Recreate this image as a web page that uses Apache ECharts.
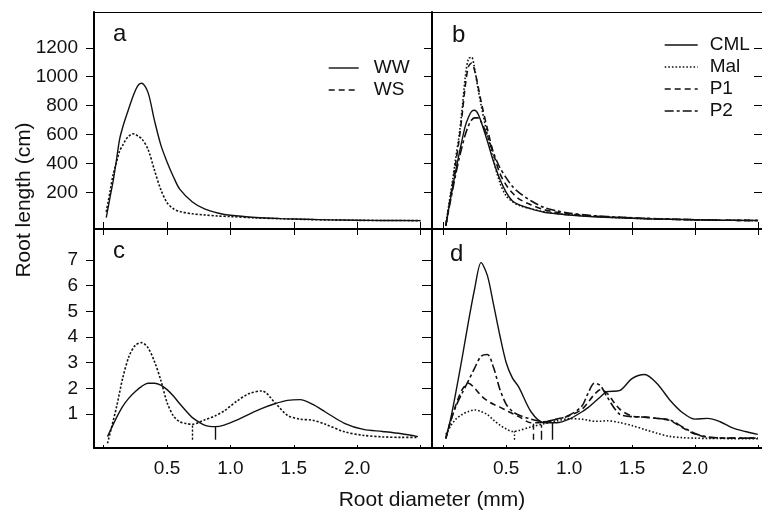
<!DOCTYPE html>
<html>
<head>
<meta charset="utf-8">
<script src="https://cdn.jsdelivr.net/npm/echarts@6/dist/echarts.min.js"></script>
<style>
  html, body { margin: 0; padding: 0; background: #fff; }
  #chart { width: 762px; height: 512px; }
</style>
</head>
<body>
<div id="chart"></div>
<script>
// root diameter (mm) sample points, upper panels (a, b)
var diamTop = [0.02, 0.05, 0.075, 0.1, 0.125, 0.15, 0.175, 0.2, 0.225, 0.25, 0.275, 0.3, 0.35, 0.4, 0.45,
  0.5, 0.55, 0.6, 0.7, 0.8, 0.9, 1.0, 1.2, 1.4, 1.6, 1.8, 2.0, 2.2, 2.5];
// panel a: root length (cm)
var wwA = [25, 165, 280, 420, 565, 650, 720, 785, 850, 905, 945, 955, 890, 700, 530,
  410, 308, 222, 133, 83, 57, 41, 26, 18, 13, 9, 7, 5, 4];
var wsA = [65, 205, 325, 405, 485, 525, 565, 590, 605, 602, 585, 572, 497, 355, 220,
  128, 86, 67, 51, 43, 36, 32, 23, 17, 12, 8, 6, 5, 4];
// panel b
var cmlB = [-30, 120, 239, 355, 462, 565, 660, 720, 760, 768, 745, 690, 555, 410, 290,
  200, 140, 115, 85, 62, 52, 43, 31, 23, 17, 13, 10, 7, 5];
var malB = [-30, 150, 290, 446, 590, 780, 1000, 1125, 1135, 1050, 920, 805, 600, 420, 265,
  175, 135, 110, 85, 65, 53, 45, 32, 24, 18, 13, 10, 7, 5];
var p1B = [-30, 130, 265, 410, 560, 740, 940, 1070, 1095, 1040, 940, 830, 640, 465, 330,
  250, 195, 155, 112, 80, 62, 50, 35, 26, 19, 14, 10, 7, 5];
var p2B = [-30, 110, 220, 330, 430, 520, 600, 660, 700, 715, 715, 690, 590, 470, 370,
  300, 240, 200, 140, 95, 72, 56, 38, 28, 20, 14, 10, 7, 5];

// panel c
var diamC = [0.03, 0.1, 0.15, 0.2, 0.25, 0.3, 0.35, 0.4, 0.45, 0.5, 0.55, 0.6, 0.65, 0.7, 0.8,
  0.88, 0.95, 1.05, 1.15, 1.25, 1.35, 1.45, 1.55, 1.65, 1.75, 1.9, 2.05, 2.2, 2.35, 2.48];
var wwC = [0.12, 0.85, 1.3, 1.63, 1.88, 2.08, 2.2, 2.2, 2.13, 1.95, 1.7, 1.4, 1.12, 0.86, 0.56,
  0.51, 0.57, 0.76, 1.0, 1.22, 1.4, 1.53, 1.56, 1.38, 1.08, 0.64, 0.4, 0.32, 0.23, 0.12];
var wsC = [-0.14, 1.25, 2.4, 3.25, 3.68, 3.78, 3.58, 3.05, 2.33, 1.45, 0.93, 0.7, 0.63, 0.6, 0.78,
  0.93, 1.12, 1.5, 1.8, 1.9, 1.45, 0.95, 0.8, 0.76, 0.6, 0.31, 0.17, 0.11, 0.09, 0.09];
var cutC = [0.878, 0.70]; // WW, WS

// panel d
var diamD = [0.02, 0.06, 0.1, 0.15, 0.2, 0.25, 0.3, 0.35, 0.4, 0.45, 0.5, 0.55, 0.6, 0.7, 0.8, 0.9,
  1.0, 1.1, 1.15, 1.2, 1.25, 1.3, 1.4, 1.5, 1.6, 1.7, 1.8, 1.9, 2.0, 2.1, 2.2, 2.3, 2.4, 2.5];
var cmlD = [0.05, 0.85, 1.85, 3.2, 4.6, 5.9, 6.9, 6.4, 5.25, 4.05, 3.0, 2.4, 2.05, 1.07, 0.66, 0.66,
  0.8, 1.08, 1.25, 1.46, 1.67, 1.87, 1.91, 2.38, 2.54, 2.18, 1.55, 1.06, 0.8, 0.83, 0.7, 0.46, 0.32, 0.21];
var malD = [0.2, 0.55, 0.8, 0.98, 1.1, 1.16, 1.1, 0.98, 0.76, 0.57, 0.42, 0.32, 0.36, 0.5, 0.62, 0.73,
  0.82, 0.8, 0.76, 0.72, 0.72, 0.74, 0.67, 0.55, 0.4, 0.25, 0.13, 0.08, 0.06, 0.05, 0.05, 0.04, 0.04, 0.04];
var p1D = [0.05, 0.75, 1.35, 1.95, 2.2, 2.0, 1.72, 1.52, 1.38, 1.27, 1.14, 1.02, 0.9, 0.66, 0.68, 0.8,
  0.93, 1.18, 1.45, 1.76, 1.95, 1.82, 1.2, 0.92, 0.88, 0.83, 0.75, 0.47, 0.22, 0.1, 0.07, 0.06, 0.06, 0.06];
var p2D = [0.05, 0.75, 1.3, 1.82, 2.3, 2.8, 3.25, 3.32, 2.8, 1.96, 1.38, 1.1, 0.96, 0.8, 0.7, 0.8,
  0.95, 1.3, 1.8, 2.2, 2.1, 1.68, 1.0, 0.9, 0.88, 0.83, 0.77, 0.5, 0.24, 0.1, 0.07, 0.06, 0.06, 0.06];
var cutD = [0.867, 0.565, 0.716, 0.78]; // CML, Mal, P1, P2

var xTicks = [0, 0.5, 1.0, 1.5, 2.0, 2.5];
var xLabels = [0.5, 1.0, 1.5, 2.0];
var yTicksTop = [200, 400, 600, 800, 1000, 1200];
var yTicksBottom = [1, 2, 3, 4, 5, 6, 7];

var FONT = "'Liberation Sans', Arial, sans-serif";
var INK = '#111';
var SOLID = 'solid', DOT = [1.6, 2], FINE = [2.2, 1.8], DASH = [6, 4], DASHDOT = [9, 3, 3, 3];

function pairs(xs, ys) {
  return xs.map(function (x, i) { return [x, ys[i]]; });
}
function interp(xs, ys, x) {
  for (var i = 1; i < xs.length; i++) {
    if (x <= xs[i]) {
      var t = (x - xs[i - 1]) / (xs[i] - xs[i - 1]);
      return ys[i - 1] + t * (ys[i] - ys[i - 1]);
    }
  }
  return ys[ys.length - 1];
}

function line(name, xs, ys, idx, type, cut) {
  var w = type === SOLID ? 1.4 : 1.6;
  var s = {
    name: name,
    type: 'line',
    xAxisIndex: idx,
    yAxisIndex: idx,
    data: pairs(xs, ys),
    smooth: 0.3,
    symbol: 'none',
    silent: true,
    itemStyle: { color: INK },
    lineStyle: { color: INK, width: w, type: type }
  };
  if (cut != null) {
    s.markLine = {
      silent: true,
      symbol: 'none',
      label: { show: false },
      lineStyle: { color: INK, width: 1.4, type: type },
      data: [[{ coord: [cut, 0] }, { coord: [cut, interp(xs, ys, cut)] }]]
    };
  }
  return s;
}

function xAxis(grid, opt) {
  var left = grid % 2 === 0;
  return {
    type: 'value',
    gridIndex: grid,
    position: opt.position || 'bottom',
    min: left ? -0.0766 : -0.0898,
    max: left ? 2.591 : 2.533,
    splitLine: { show: false },
    axisLine: { show: opt.lineWidth > 0, onZero: false, lineStyle: { color: '#000', width: opt.lineWidth || 1 } },
    axisTick: { show: opt.tick > 0, inside: true, length: opt.tick, customValues: xTicks, lineStyle: { color: '#000', width: 1 } },
    axisLabel: {
      show: !!opt.labels, customValues: xLabels, margin: 11,
      color: INK, fontSize: 19, fontFamily: FONT,
      formatter: function (v) { return v.toFixed(1); }
    }
  };
}

function yAxis(grid, opt) {
  var top = grid < 2;
  var ticks = top ? yTicksTop : yTicksBottom;
  return {
    type: 'value',
    gridIndex: grid,
    min: top ? -54 : -0.323,
    max: top ? 1448 : 8.208,
    splitLine: { show: false },
    axisLine: { show: opt.line !== false, onZero: false, lineStyle: { color: '#000', width: 2 } },
    axisTick: { show: true, inside: !!opt.inside, length: opt.tick || 8, customValues: ticks, lineStyle: { color: '#000', width: 1 } },
    axisLabel: {
      show: !!opt.labels, customValues: ticks, margin: 16, color: INK, fontSize: 19, fontFamily: FONT,
      formatter: function (v) { return String(v); }
    }
  };
}

function letter(t, x, y) {
  return { type: 'text', x: x, y: y, style: { text: t, font: '24px ' + FONT, fill: INK, textAlign: 'left', textVerticalAlign: 'middle' } };
}

var legendCommon = {
  orient: 'vertical', itemHeight: 14, itemGap: 2, selectedMode: false,
  itemStyle: { opacity: 0 },
  lineStyle: { width: 1.4 }
};

var chart = echarts.init(document.getElementById('chart'));
chart.setOption({
  animation: false,
  backgroundColor: '#fff',
  grid: [
    { left: 94, top: 12, width: 338, height: 217 },
    { left: 432, top: 12, width: 330, height: 217 },
    { left: 94, top: 229, width: 338, height: 219 },
    { left: 432, top: 229, width: 330, height: 219 }
  ],
  xAxis: [
    xAxis(0, { lineWidth: 2, tick: 7 }),
    xAxis(1, { lineWidth: 2, tick: 7 }),
    xAxis(2, { lineWidth: 2, tick: 3, labels: true }),
    xAxis(3, { lineWidth: 2, tick: 3, labels: true }),
    xAxis(0, { position: 'top', lineWidth: 1, tick: 0 }),
    xAxis(1, { position: 'top', lineWidth: 1, tick: 0 }),
    xAxis(2, { position: 'top', lineWidth: 0, tick: 6 }),
    xAxis(3, { position: 'top', lineWidth: 0, tick: 6 })
  ],
  yAxis: [
    yAxis(0, { labels: true }),
    yAxis(1, {}),
    yAxis(2, { labels: true }),
    yAxis(3, { tick: 10 }),
    yAxis(1, { line: false, inside: true, tick: 8 })
  ],
  legend: [
    Object.assign({}, legendCommon, {
      left: 323, top: 53, itemWidth: 30,
      textStyle: { color: INK, fontSize: 19, fontFamily: FONT, lineHeight: 20, padding: [0, 0, 0, 10] },
      data: [{ name: 'WW' }, { name: 'WS', lineStyle: { type: DASH } }]
    }),
    Object.assign({}, legendCommon, {
      left: 659, top: 30, itemWidth: 33,
      textStyle: { color: INK, fontSize: 19, fontFamily: FONT, lineHeight: 20, padding: [0, 0, 0, 7] },
      data: ['CML', 'Mal', 'P1', 'P2']
    })
  ],
  series: [
    line('WW', diamTop, wwA, 0, SOLID),
    line('WS', diamTop, wsA, 0, FINE),
    line('CML', diamTop, cmlB, 1, SOLID),
    line('Mal', diamTop, malB, 1, DOT),
    line('P1', diamTop, p1B, 1, DASH),
    line('P2', diamTop, p2B, 1, DASHDOT),
    line('WW', diamC, wwC, 2, SOLID, cutC[0]),
    line('WS', diamC, wsC, 2, FINE, cutC[1]),
    line('CML', diamD, cmlD, 3, SOLID, cutD[0]),
    line('Mal', diamD, malD, 3, DOT, cutD[1]),
    line('P1', diamD, p1D, 3, DASH, cutD[2]),
    line('P2', diamD, p2D, 3, DASHDOT, cutD[3])
  ],
  graphic: [
    letter('a', 113, 34),
    letter('b', 452, 35),
    letter('c', 113, 251),
    letter('d', 450, 254),
    { type: 'text', x: 432, y: 500, style: { text: 'Root diameter (mm)', font: '21px ' + FONT, fill: INK, textAlign: 'center', textVerticalAlign: 'middle' } },
    { type: 'text', x: 24, y: 200, rotation: Math.PI / 2, style: { text: 'Root length (cm)', font: '21px ' + FONT, fill: INK, textAlign: 'center', textVerticalAlign: 'middle' } }
  ]
});
</script>
</body>
</html>
